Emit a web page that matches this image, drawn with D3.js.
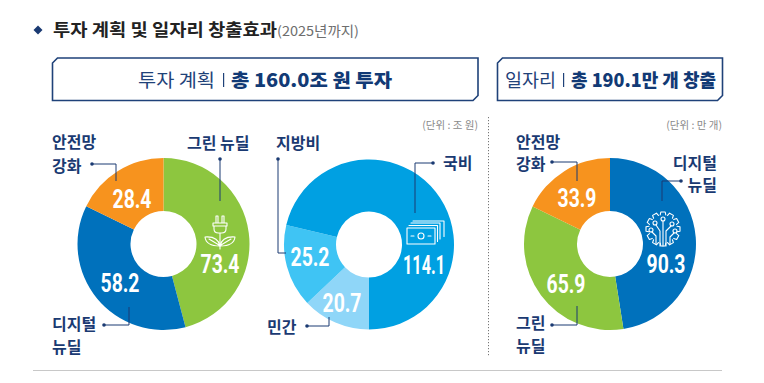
<!DOCTYPE html>
<html><head><meta charset="utf-8">
<script src="https://cdn.jsdelivr.net/npm/d3@7/dist/d3.min.js"></script>
<style>
html,body{margin:0;padding:0;background:#fff}
svg{display:block}
text{font-family:"Noto Sans CJK KR","Noto Sans",sans-serif}
.val{font-family:"Roboto","Noto Sans",sans-serif;font-weight:700;fill:#fff;font-size:25px;text-anchor:middle}
.lab{fill:#1a3a72;font-size:16px;font-weight:700}
</style></head><body>
<svg id="c" width="764" height="383"></svg>
<script>
// Data
const investCategories = ["그린 뉴딜", "디지털 뉴딜", "안전망 강화"];
const investValues = [73.4, 58.2, 28.4];
const fundCategories = ["민간", "지방비", "국비"];
const fundValues = [20.7, 25.2, 114.1];
const jobCategories = ["디지털 뉴딜", "그린 뉴딜", "안전망 강화"];
const jobValues = [90.3, 65.9, 33.9];

// Layout
const NAVY = "#1a3a72";
const svg = d3.select("#c");
const rOuter = 86, rInner = 33;

function donut(cx, cy, values, colors, startDeg, labelPos, R = rOuter) {
  const pie = d3.pie().sort(null).value(d => d)
    .startAngle(startDeg * Math.PI / 180)
    .endAngle((startDeg + 360) * Math.PI / 180);
  const g = svg.append("g").attr("transform", `translate(${cx},${cy})`);
  const a = d3.arc().innerRadius(rInner).outerRadius(R);
  g.selectAll("path").data(pie(values)).join("path")
    .attr("d", a).attr("fill", (d, i) => colors[i]);
  svg.selectAll(null).data(values).join("text").attr("class", "val")
    .attr("x", (d, i) => labelPos[i][0]).attr("y", (d, i) => labelPos[i][1] + 9)
    .attr("textLength", d => d >= 100 ? 42 : 39)
    .attr("lengthAdjust", "spacingAndGlyphs")
    .text(d => d.toFixed(1));
}

donut(163.5, 244, investValues, ["#8dc63f", "#0071bc", "#f7931e"], 0, [[220, 264], [120, 283], [132, 199]]);
donut(369, 244.5, fundValues, ["#8fd6f8", "#3fc4f4", "#00a0e2"], 180, [[342, 303], [310, 257], [424, 265]], 85);
donut(610, 244, jobValues, ["#0071bc", "#8dc63f", "#f7931e"], 0, [[666, 264], [566, 284], [577, 198]]);

// Title
svg.append("path").attr("d", "M38 25.5L42.5 30L38 34.5L33.5 30Z").attr("fill", NAVY);
svg.append("text").attr("x", 53).attr("y", 36).attr("font-size", 17.5).attr("font-weight", 700).attr("fill", "#222")
  .attr("textLength", 224).attr("lengthAdjust", "spacingAndGlyphs").text("투자 계획 및 일자리 창출효과");
svg.append("text").attr("x", 277).attr("y", 36).attr("font-size", 13.5).attr("fill", "#6e6e6e")
  .attr("textLength", 82).attr("lengthAdjust", "spacingAndGlyphs").text("(2025년까지)");

// Header boxes
function box(x0, x1, y0, y1) {
  const c = 5;
  svg.append("path")
    .attr("d", `M${x0 + c} ${y0}H${x1}V${y1 - c}L${x1 - c} ${y1}H${x0}V${y0 + c}Z`)
    .attr("fill", "#fff").attr("stroke", "#1f4279").attr("stroke-width", 1.6);
}
box(52.5, 478, 58, 100.5);
box(497.5, 722.5, 58, 100.5);

function header(x, light, lightW, sepX, boldX, bold, boldW) {
  svg.append("text").attr("x", x).attr("y", 87).attr("font-size", 18.5).attr("fill", "#1f4279")
    .attr("textLength", lightW).attr("lengthAdjust", "spacingAndGlyphs").text(light);
  svg.append("rect").attr("x", sepX).attr("y", 73).attr("width", 1.2).attr("height", 14).attr("fill", "#1f4279");
  svg.append("text").attr("x", boldX).attr("y", 87).attr("font-size", 18.5).attr("font-weight", 900).attr("fill", "#123a75")
    .attr("textLength", boldW).attr("lengthAdjust", "spacingAndGlyphs").text(bold);
}
header(138, "투자 계획", 77, 223, 231, "총 160.0조 원 투자", 161);
header(505, "일자리", 51, 563, 571, "총 190.1만 개 창출", 145);

// Units
[["(단위 : 조 원)", 478], ["(단위 : 만 개)", 722]].forEach(([t, x]) =>
  svg.append("text").attr("x", x).attr("y", 129).attr("text-anchor", "end")
    .attr("font-size", 10.5).attr("fill", "#8a8a8a").text(t));

// Divider lines
svg.append("line").attr("x1", 488.5).attr("x2", 488.5).attr("y1", 117).attr("y2", 357)
  .attr("stroke", "#777").attr("stroke-width", 1).attr("stroke-dasharray", "1.2 1.8");
svg.append("line").attr("x1", 33).attr("x2", 722).attr("y1", 370.5).attr("y2", 370.5)
  .attr("stroke", "#c8c8c8").attr("stroke-width", 1);

// Category labels
const labels = [
  ["안전망", 52, 148], ["강화", 52, 172], ["그린 뉴딜", 187, 149], ["디지털", 52, 330], ["뉴딜", 52, 353],
  ["지방비", 276, 149], ["국비", 443, 169], ["민간", 267, 333],
  ["안전망", 516, 148], ["강화", 516, 170], ["그린", 516, 329], ["뉴딜", 516, 352]
];
svg.selectAll(null).data(labels).join("text").attr("class", "lab")
  .attr("x", d => d[1]).attr("y", d => d[2]).text(d => d[0]);
[["디지털", 717, 169], ["뉴딜", 717, 191]].forEach(d =>
  svg.append("text").attr("class", "lab").attr("text-anchor", "end").attr("x", d[1]).attr("y", d[2]).text(d[0]));

// Leader lines
const leaders = [
  [[92, 164], [116, 164], [116, 181]],
  [[220, 159], [220, 201]],
  [[104, 325], [129, 325], [129, 307]],
  [[278, 159], [278, 253], [286, 253]],
  [[433, 163], [415, 163], [415, 213]],
  [[307, 326], [329, 326], [329, 317]],
  [[552, 162], [577, 162], [577, 181]],
  [[681, 181], [662, 181], [662, 201]],
  [[552, 325], [577, 325], [577, 306]]
];
const line = d3.line();
leaders.forEach(p => {
  svg.append("path").attr("d", line(p)).attr("fill", "none").attr("stroke", NAVY).attr("stroke-width", 1);
  svg.append("circle").attr("cx", p[0][0]).attr("cy", p[0][1]).attr("r", 1.8).attr("fill", NAVY);
});

// Icons
const ic = (x, y) => svg.append("g").attr("transform", `translate(${x},${y})`)
  .attr("fill", "none").attr("stroke", "#fff").attr("stroke-width", 1.1)
  .attr("stroke-linejoin", "round").attr("stroke-linecap", "round");

// plug with leaves
const plug = ic(220, 232);
plug.append("path").attr("d", "M-4 -16V-9M-4 -16H-2V-9M2 -16H4V-9M2 -16V-9M-7 -9H7V-6H-7ZM-6 -6V-3Q-6 1 -1.5 1H1.5Q6 1 6 -3V-6M0 1V17");
plug.append("path").attr("d", "M0 14Q-2 4 -15 5Q-14 14 0 14ZM-11 7Q-6 10 -1 13");
plug.append("path").attr("d", "M0 14Q2 4 15 5Q14 14 0 14ZM11 7Q6 10 1 13");

// stack of bills
const bills = ic(426, 233);
bills.append("rect").attr("x", -19).attr("y", -5).attr("width", 28).attr("height", 16);
bills.append("circle").attr("cx", -5).attr("cy", 3).attr("r", 3);
bills.append("path").attr("d", "M-15 3H-12M2 3H5");
bills.append("path").attr("d", "M-17 -7.5H11.5V8.5M-15 -10H14V6M-13 -12H18V3.5");

// gear with circuit tree
const gear = ic(663, 229);
const teeth = d3.range(12).map(i => i * 30);
gear.selectAll(null).data(teeth).join("path")
  .attr("transform", d => `rotate(${d})`)
  .attr("d", "M-2.8 -14L-2.2 -17H2.2L2.8 -14");
gear.append("path").attr("d", "M-7 15V7L-11 3M-3 17V2L-7 -4M0 17V-8M3 17V2L8 -3M7 15V8L11 4");
[[-12, 1], [-8, -6], [0, -10], [9, -5], [12, 2]].forEach(p =>
  gear.append("circle").attr("cx", p[0]).attr("cy", p[1]).attr("r", 2));
</script>
</body></html>
